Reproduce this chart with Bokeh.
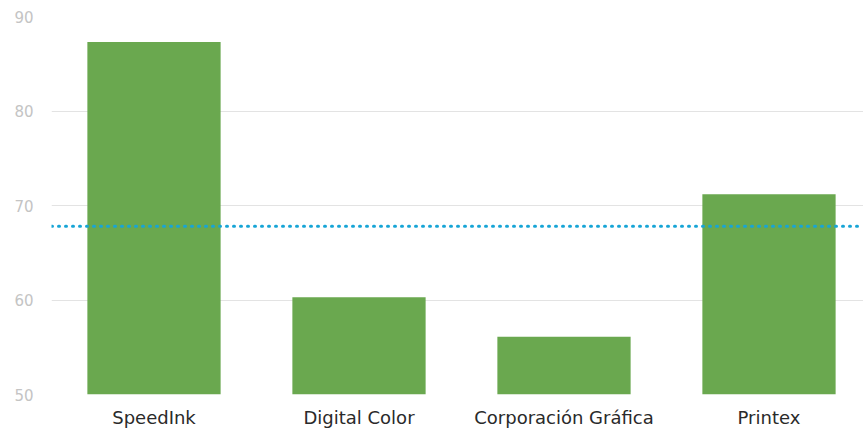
from bokeh.plotting import figure
from bokeh.models import Range1d, FixedTicker, Span, ColumnDataSource
from bokeh.embed import file_html
from bokeh.resources import INLINE

categories = ["SpeedInk", "Digital Color", "Corporación Gráfica", "Printex"]
values = [87.3, 60.3, 56.1, 71.2]
reference_value = 67.8
y_ticks = [50, 60, 70, 80, 90]

y_min, y_max = 50, 90
positions = [i + 0.5 for i in range(len(categories))]

source = ColumnDataSource(dict(x=positions, top=values, cat=categories))

p = figure(width=863, height=432, output_backend="svg", toolbar_location=None,
           x_range=Range1d(0, 3.961), y_range=Range1d(y_min, y_max),
           min_border_left=51, min_border_right=0, min_border_top=16,
           min_border_bottom=38)
p.outline_line_color = None
p.background_fill_color = "white"
p.border_fill_color = "white"

p.vbar(x="x", top="top", bottom=y_min, width=0.65, source=source,
       fill_color="#6aa84f", line_color=None)

p.add_layout(Span(location=reference_value, dimension="width",
                  line_color="#17a5d6", line_width=3, line_dash="1 6",
                  line_cap="round"))

# axes
p.xaxis.ticker = FixedTicker(ticks=positions)
p.xaxis.major_label_overrides = {pos: c for pos, c in zip(positions, categories)}
p.xaxis.axis_line_color = None
p.xaxis.major_tick_line_color = None
p.xaxis.minor_tick_line_color = None
p.xaxis.major_label_text_font = "DejaVu Sans"
p.xaxis.major_label_text_font_size = "18px"
p.xaxis.major_label_text_color = "#2a2a2a"
p.xaxis.major_label_standoff = 6

p.yaxis.ticker = FixedTicker(ticks=y_ticks)
p.yaxis.axis_line_color = None
p.yaxis.major_tick_line_color = None
p.yaxis.minor_tick_line_color = None
p.yaxis.major_label_text_font = "DejaVu Sans"
p.yaxis.major_label_text_font_size = "15px"
p.yaxis.major_label_text_color = "#c4c4c4"
p.yaxis.major_label_standoff = 12

p.xgrid.grid_line_color = None
p.ygrid.grid_line_color = "#e3e3e3"
p.ygrid.grid_line_width = 1

open("out.html", "w").write(file_html(p, INLINE))
